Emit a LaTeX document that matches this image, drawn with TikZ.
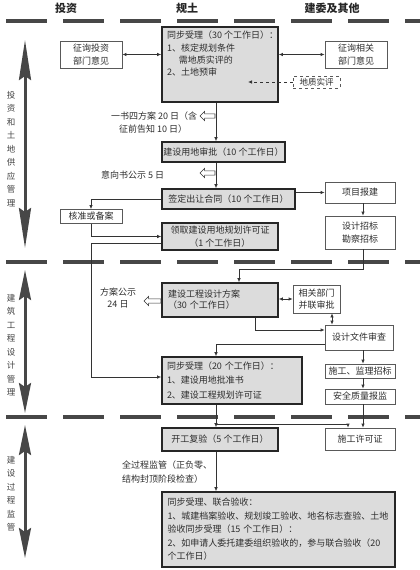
\documentclass[tikz,border=0pt]{standalone}
\usepackage{fontspec}
\setmainfont{Noto Sans CJK SC}
\usetikzlibrary{arrows.meta,shapes.arrows,calc}
\definecolor{boxgray}{RGB}{220,220,220}
\definecolor{ink}{RGB}{45,45,45}
\begin{document}
\begin{tikzpicture}[x=1pt,y=-1pt,
  font=\fontsize{9}{12}\selectfont, text=ink,
  gbox/.style={draw=black!85, line width=1.6pt, fill=boxgray, inner sep=0pt, align=center},
  wbox/.style={draw=black!65, line width=0.7pt, fill=white, inner sep=0pt, align=center},
  conn/.style={draw=black!80, line width=0.7pt},
  tip/.style={-{Latex[length=4pt,width=3.5pt]}},
  tips/.style={{Latex[length=4pt,width=3.5pt]}-{Latex[length=4pt,width=3.5pt]}},
  sepline/.style={line width=4pt, draw=black!72, dash pattern=on 41pt off 16pt},
  bigarrow/.style={line width=3pt, draw=black!72,
    {Stealth[length=#1,width=12pt,inset=4pt]}-{Stealth[length=#1,width=12pt,inset=4pt]}},
  hollow/.style={single arrow, draw=black!80, fill=white, line width=0.6pt,
    minimum height=15pt, inner sep=1.8pt, single arrow head extend=2.5pt,
    shape border rotate=180},
  head/.style={font=\fontsize{11}{11}\selectfont\bfseries, text=black!85},
  side/.style={font=\fontsize{8.5}{13.5}\selectfont, align=center, text=black!75}
]
\useasboundingbox (0,0) rectangle (420,570);

% headers
\node[head] (h1) at (66,8) {投资};
\node[head] (h2) at (187,8) {规土};
\node[head] (h3) at (332,8) {建委及其他};

% separators
\draw[sepline] (6,21) -- (420,21);
\draw[sepline] (6,262) -- (420,262);
\draw[sepline] (6,417) -- (420,417);

% side arrows and labels
\draw[bigarrow=40pt] (25,40) -- (25,248);
\draw[bigarrow=30pt] (25,270) -- (25,413);
\draw[bigarrow=30pt] (25,425) -- (25,558);
\node[side] (l1) at (11,149) {投\\资\\和\\土\\地\\供\\应\\管\\理};
\node[side] (l2) at (11,345) {建\\筑\\工\\程\\设\\计\\管\\理};
\node[side] (l3) at (11,494) {建\\设\\过\\程\\监\\管};

% helper coordinates
\coordinate (spine) at (216,0);
\coordinate (rx) at (363,0);
\coordinate (gx) at (332,0);

% nodes
\node[wbox, minimum width=62pt, minimum height=27pt, font=\fontsize{9}{13.5}\selectfont] (zx) at (91,54.5) {征询投资\\部门意见};
\node[wbox, minimum width=62pt, minimum height=27pt, font=\fontsize{9}{13.5}\selectfont] (zr) at (356,54.5) {征询相关\\部门意见};
\node[gbox, minimum width=116pt, minimum height=75pt] (b1) at (220,64.5) {};
\node[anchor=north west, align=left, inner sep=0pt, font=\fontsize{9}{12.3}\selectfont] (b1t) at (167,31)
  {同步受理（30 个工作日）：\\1、核定规划条件\\\hspace*{1.3em}需地质实评的\\2、土地预审};
\node[draw=black!65, dashed, line width=0.6pt, minimum width=47pt, minimum height=12pt, inner sep=0pt,
  font=\fontsize{8.5}{9}\selectfont] (dz) at (316.5,82) {地质实评};
\coordinate (dzt) at (248,82);

\node[gbox, minimum width=123pt, minimum height=20pt] (b2) at (223.5,152) {建设用地审批（10 个工作日）};
\node[gbox, minimum width=133pt, minimum height=20pt] (b3) at (228.5,199) {签定出让合同（10 个工作日）};
\node[wbox, minimum width=70pt, minimum height=21pt] (xm) at (360,192.5) {项目报建};
\node[wbox, minimum width=70pt, minimum height=33pt, font=\fontsize{9}{13}\selectfont] (sj) at (360,232.5) {设计招标\\勘察招标};
\node[wbox, minimum width=62pt, minimum height=14pt] (hz) at (91,216.5) {核准或备案};
\node[gbox, minimum width=116pt, minimum height=27pt, font=\fontsize{9}{13}\selectfont] (b4) at (220,236.5) {领取建设用地规划许可证\\（1 个工作日）};

\node[gbox, minimum width=116pt, minimum height=34pt, text width=104pt, align=left, font=\fontsize{9}{11}\selectfont] (b5) at (220,300) {建设工程设计方案\\（30 个工作日）};
\node[wbox, minimum width=47pt, minimum height=28pt, font=\fontsize{9}{11.5}\selectfont] (xg) at (316.5,299) {相关部门\\并联审批};
\node[wbox, minimum width=68pt, minimum height=25pt] (sc) at (359,337.5) {设计文件审查};
\node[gbox, minimum width=140pt, minimum height=47pt, text width=130pt, align=left, font=\fontsize{9}{14.5}\selectfont] (b6) at (232,380.5)
  {同步受理（20 个工作日）：\\1、建设用地批准书\\2、建设工程规划许可证};
\node[wbox, minimum width=70pt, minimum height=14pt] (sgjl) at (360,371) {施工、监理招标};
\node[wbox, minimum width=70pt, minimum height=15pt] (aq) at (360,396.5) {安全质量报监};
\node[wbox, minimum width=70pt, minimum height=22pt] (sx) at (360,439) {施工许可证};
\node[gbox, minimum width=116pt, minimum height=23pt] (b7) at (220,439.5) {开工复验（5 个工作日）};
\node[gbox, minimum width=233pt, minimum height=75pt, text width=222pt, align=left, font=\fontsize{9}{13.5}\selectfont] (b8) at (278.5,529.5)
  {同步受理、联合验收：\\1、城建档案验收、规划竣工验收、地名标志查验、土地\\验收同步受理（15 个工作日）：\\2、如申请人委托建委组织验收的，参与联合验收（20\\个工作日）};

% labels
\node[anchor=west, align=left, inner sep=0pt, font=\fontsize{9}{13}\selectfont] (lab1) at (111,122.5) {一书四方案 20 日（含\\\hspace*{8pt}征前告知 10 日）};
\node[anchor=west, inner sep=0pt] (lab2) at (101,175) {意向书公示 5 日};
\node[align=center, inner sep=0pt, font=\fontsize{9}{12}\selectfont] (lab3) at (118,298) {方案公示\\24 日};
\node[anchor=west, align=left, inner sep=0pt, font=\fontsize{9}{14}\selectfont] (lab4) at (122,472) {全过程监管（正负零、\\结构封顶阶段检查）};

% hollow arrows
\node[hollow] (ha1) at (208.5,116) {};
\node[hollow] (ha2) at (208.5,173) {};
\node[hollow, minimum height=17pt] (ha3) at (153.5,301) {};

% connectors
\draw[conn, tips] (zx.east) -- (zx.east -| b1.west);
\draw[conn, tips] (b1.east |- zr.west) -- (zr.west);
\draw[conn, dashed, tip] (dz.west) -- (dzt);
\draw[conn, tip] (b1.south -| spine) -- (b2.north -| spine);
\draw[conn, tip] (b2.south -| spine) -- (b3.north -| spine);
\draw[conn, tip] (b3.east |- xm.west) -- (xm.west);
\draw[conn, tip] (xm.south -| rx) -- (sj.north -| rx);
\draw[conn, tip] (b3.west) -| (hz.north);
\draw[conn, tip] (hz.south) |- (b4.west);
\coordinate (b4w) at ([yshift=-6.5pt]b4.west);
\coordinate (b6w) at ([yshift=3.5pt]b6.west);
\draw[conn, tip] (b4w) -| (hz.south |- b6w) -- (b6w);
\coordinate (sjs) at (sj.south -| rx);
\coordinate (b5n) at ([xshift=19pt]b5.north);
\draw[conn, tip] (sjs) -- ++(0,20) -| (b5n);
\draw[conn, tips] (b5.east |- xg.west) -- (xg.west);
\draw[conn, tips] (xg.south -| gx) -- (sc.north -| gx);
\coordinate (b5s) at ([xshift=35pt]b5.south);
\coordinate (scw1) at ([yshift=7.5pt]sc.west);
\coordinate (scw2) at ([yshift=-6.5pt]sc.west);
\draw[conn, tip] (b5s) |- (scw1);
\draw[conn, tip] (scw2) -| (b6.north -| spine);
\draw[conn, tip] (sc.south -| rx) -- (sgjl.north -| rx);
\draw[conn, tip] (sgjl.south -| rx) -- (aq.north -| rx);
\draw[conn, tip] (aq.south -| rx) -- (sx.north -| rx);
\draw[conn, tip] (b6.south -| spine) -- (b7.north -| spine);
\coordinate (br) at (216,424);
\coordinate (sxn) at ([xshift=-12pt]sx.north);
\draw[conn, tip] (br) -| (sxn);
\draw[conn, tip] (b7.south -| spine) -- (b8.north -| spine);
\end{tikzpicture}
\end{document}
